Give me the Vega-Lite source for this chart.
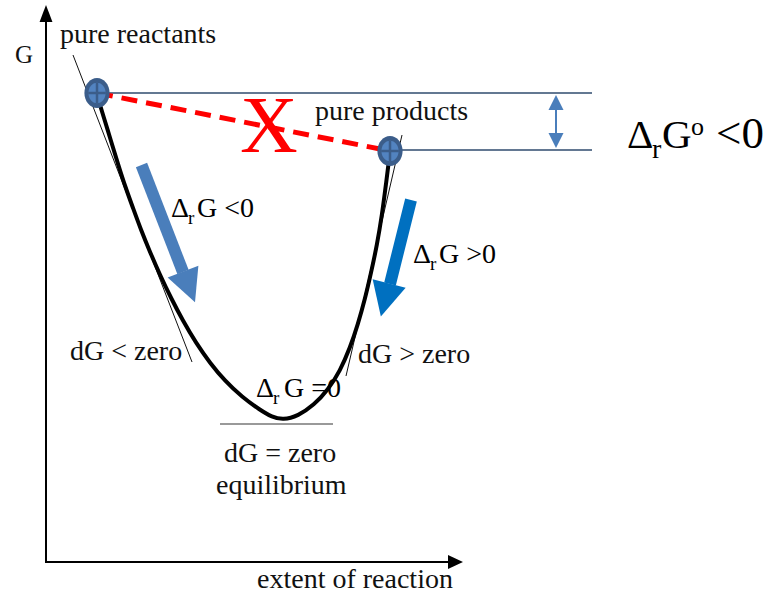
{
  "$schema": "https://vega.github.io/schema/vega-lite/v6.json",
  "width": 779,
  "height": 598,
  "autosize": {"type": "fit", "contains": "padding"},
  "padding": 0,
  "background": "white",
  "config": {"view": {"stroke": null}},
  "datasets": {
    "axes": [{"x": 46, "y": 563, "x2": 46, "y2": 18}, {"x": 45, "y": 562, "x2": 452, "y2": 562}],
    "arrowUp": [{"x": 46, "y": 13.5}],
    "arrowRight": [{"x": 455.5, "y": 562}],
    "levels": [{"x": 97, "y": 93, "x2": 592, "y2": 93}, {"x": 390, "y": 150, "x2": 592, "y2": 150}],
    "tangents": [{"x": 73, "y": 55, "x2": 192, "y2": 362}, {"x": 402, "y": 135, "x2": 346, "y2": 376}],
    "flat": [{"x": 220, "y": 424, "x2": 333, "y2": 424}],
    "curve": [
      {"x": 97, "y": 95}, {"x": 104, "y": 118}, {"x": 111, "y": 141}, {"x": 118, "y": 164},
      {"x": 125, "y": 186}, {"x": 133, "y": 208}, {"x": 141, "y": 230}, {"x": 150, "y": 252},
      {"x": 160, "y": 275}, {"x": 171, "y": 298}, {"x": 183, "y": 321}, {"x": 196, "y": 343},
      {"x": 210, "y": 363}, {"x": 225, "y": 381}, {"x": 242, "y": 397}, {"x": 260, "y": 410},
      {"x": 272, "y": 417}, {"x": 283, "y": 420}, {"x": 298, "y": 416}, {"x": 314, "y": 405},
      {"x": 328, "y": 390}, {"x": 340, "y": 371}, {"x": 350, "y": 348}, {"x": 358, "y": 324},
      {"x": 365, "y": 299}, {"x": 371, "y": 273}, {"x": 377, "y": 245}, {"x": 382, "y": 215},
      {"x": 386, "y": 184}, {"x": 390, "y": 152}
    ],
    "dashed": [{"x": 97, "y": 93, "x2": 390, "y2": 151}],
    "blobs": [{"x": 97, "y": 93}, {"x": 390, "y": 151}],
    "shaftL": [{"x": 141.5, "y": 165, "x2": 183, "y2": 272}],
    "headL": [{"x": 189, "y": 287}],
    "shaftR": [{"x": 411, "y": 200, "x2": 390, "y2": 284}],
    "headR": [{"x": 385, "y": 300}],
    "dshaft": [{"x": 556, "y": 100, "x2": 556, "y2": 142}],
    "dheadUp": [{"x": 556, "y": 102.5}],
    "dheadDown": [{"x": 556, "y": 140.5}],
    "labels": [
      {"x": 60, "y": 43, "text": "pure reactants"},
      {"x": 315, "y": 120, "text": "pure products"},
      {"x": 70, "y": 360, "text": "dG < zero"},
      {"x": 358, "y": 363, "text": "dG > zero"},
      {"x": 224, "y": 462, "text": "dG = zero"},
      {"x": 216, "y": 494, "text": "equilibrium"},
      {"x": 257, "y": 588, "text": "extent of reaction"}
    ],
    "axisG": [{"x": 15, "y": 63, "text": "G"}],
    "deltas": [
      {"x": 171, "y": 217, "text": "Δ"}, {"x": 197, "y": 217, "text": "G <0"},
      {"x": 413, "y": 263, "text": "Δ"}, {"x": 439, "y": 263, "text": "G >0"},
      {"x": 256, "y": 397, "text": "Δ"}, {"x": 284, "y": 397, "text": "G =0"}
    ],
    "subs": [
      {"x": 188, "y": 224, "text": "r"},
      {"x": 430, "y": 270, "text": "r"},
      {"x": 273, "y": 404, "text": "r"}
    ],
    "bigMain": [{"x": 627, "y": 148, "text": "Δ"}, {"x": 662, "y": 148, "text": "G"}],
    "bigLess": [{"x": 716, "y": 148, "text": "<0"}],
    "bigSub": [{"x": 652, "y": 158, "text": "r"}],
    "bigSup": [{"x": 691, "y": 135, "text": "o"}],
    "cross": [{"x": 269, "y": 152, "text": "X"}]
  },
  "encoding": {
    "x": {"field": "x", "type": "quantitative", "scale": {"domain": [0, 779], "nice": false, "zero": false}, "axis": null},
    "y": {"field": "y", "type": "quantitative", "scale": {"domain": [0, 598], "reverse": true, "nice": false, "zero": false}, "axis": null}
  },
  "layer": [
    {"data": {"name": "axes"}, "mark": {"type": "rule", "color": "#000000", "strokeWidth": 2},
     "encoding": {"x2": {"field": "x2"}, "y2": {"field": "y2"}}},
    {"data": {"name": "arrowUp"}, "mark": {"type": "point", "shape": "M0,-1L0.76,1L-0.76,1Z", "size": 289, "filled": true, "fill": "#000000", "strokeWidth": 0, "opacity": 1}},
    {"data": {"name": "arrowRight"}, "mark": {"type": "point", "shape": "M1,0L-1,0.93L-1,-0.93Z", "size": 225, "filled": true, "fill": "#000000", "strokeWidth": 0, "opacity": 1}},
    {"data": {"name": "levels"}, "mark": {"type": "rule", "color": "#2f4b6e", "strokeWidth": 1.6},
     "encoding": {"x2": {"field": "x2"}, "y2": {"field": "y2"}}},
    {"data": {"name": "tangents"}, "mark": {"type": "rule", "color": "#111111", "strokeWidth": 1},
     "encoding": {"x2": {"field": "x2"}, "y2": {"field": "y2"}}},
    {"data": {"name": "flat"}, "mark": {"type": "rule", "color": "#777777", "strokeWidth": 1.5},
     "encoding": {"x2": {"field": "x2"}, "y2": {"field": "y2"}}},
    {"data": {"name": "curve"}, "mark": {"type": "line", "color": "#000000", "strokeWidth": 4, "interpolate": "basis"}},
    {"data": {"name": "dashed"}, "mark": {"type": "rule", "color": "#ff0000", "strokeWidth": 5, "strokeDash": [16, 9]},
     "encoding": {"x2": {"field": "x2"}, "y2": {"field": "y2"}}},
    {"data": {"name": "blobs"}, "mark": {"type": "point", "shape": "M0.84,0C0.84,0.5523 0.464,1 0,1C-0.464,1 -0.84,0.5523 -0.84,0C-0.84,-0.5523 -0.464,-1 0,-1C0.464,-1 0.84,-0.5523 0.84,0Z", "size": 900, "filled": true, "fill": "#3b5d8a", "strokeWidth": 0, "opacity": 1}},
    {"data": {"name": "blobs"}, "mark": {"type": "point", "shape": "M0.84,0C0.84,0.5523 0.464,1 0,1C-0.464,1 -0.84,0.5523 -0.84,0C-0.84,-0.5523 -0.464,-1 0,-1C0.464,-1 0.84,-0.5523 0.84,0Z", "size": 420, "filled": true, "fill": "#5283c0", "strokeWidth": 0, "opacity": 1}},
    {"data": {"name": "blobs"}, "mark": {"type": "point", "shape": "M-0.84,0L0.84,0M0,-1L0,1", "size": 440, "filled": false, "stroke": "#3b5d8a", "strokeWidth": 2.5, "opacity": 1}},
    {"data": {"name": "shaftL"}, "mark": {"type": "rule", "color": "#4a7ebb", "strokeWidth": 12, "strokeCap": "butt"},
     "encoding": {"x2": {"field": "x2"}, "y2": {"field": "y2"}}},
    {"data": {"name": "headL"}, "mark": {"type": "point", "shape": "M0,1L-1,-1L1,-1Z", "size": 1089, "angle": 338.7, "filled": true, "fill": "#4a7ebb", "strokeWidth": 0, "opacity": 1}},
    {"data": {"name": "shaftR"}, "mark": {"type": "rule", "color": "#0070c0", "strokeWidth": 12, "strokeCap": "butt"},
     "encoding": {"x2": {"field": "x2"}, "y2": {"field": "y2"}}},
    {"data": {"name": "headR"}, "mark": {"type": "point", "shape": "M0,1L-1,-1L1,-1Z", "size": 1156, "angle": 14.1, "filled": true, "fill": "#0070c0", "strokeWidth": 0, "opacity": 1}},
    {"data": {"name": "dshaft"}, "mark": {"type": "rule", "color": "#4a7ebb", "strokeWidth": 2},
     "encoding": {"x2": {"field": "x2"}, "y2": {"field": "y2"}}},
    {"data": {"name": "dheadUp"}, "mark": {"type": "point", "shape": "M0,-1L1,1L-1,1Z", "size": 225, "filled": true, "fill": "#4a7ebb", "strokeWidth": 0, "opacity": 1}},
    {"data": {"name": "dheadDown"}, "mark": {"type": "point", "shape": "M0,1L1,-1L-1,-1Z", "size": 225, "filled": true, "fill": "#4a7ebb", "strokeWidth": 0, "opacity": 1}},
    {"data": {"name": "labels"}, "mark": {"type": "text", "align": "left", "baseline": "alphabetic", "font": "Liberation Serif", "fontSize": 28, "color": "#111111"},
     "encoding": {"text": {"field": "text"}}},
    {"data": {"name": "axisG"}, "mark": {"type": "text", "align": "left", "baseline": "alphabetic", "font": "Liberation Serif", "fontSize": 25, "color": "#111111"},
     "encoding": {"text": {"field": "text"}}},
    {"data": {"name": "deltas"}, "mark": {"type": "text", "align": "left", "baseline": "alphabetic", "font": "Liberation Serif", "fontSize": 28, "color": "#000000"},
     "encoding": {"text": {"field": "text"}}},
    {"data": {"name": "subs"}, "mark": {"type": "text", "align": "left", "baseline": "alphabetic", "font": "Liberation Serif", "fontSize": 19, "color": "#000000"},
     "encoding": {"text": {"field": "text"}}},
    {"data": {"name": "bigMain"}, "mark": {"type": "text", "align": "left", "baseline": "alphabetic", "font": "Liberation Serif", "fontSize": 41, "color": "#000000"},
     "encoding": {"text": {"field": "text"}}},
    {"data": {"name": "bigLess"}, "mark": {"type": "text", "align": "left", "baseline": "alphabetic", "font": "Liberation Serif", "fontSize": 45, "color": "#000000"},
     "encoding": {"text": {"field": "text"}}},
    {"data": {"name": "bigSub"}, "mark": {"type": "text", "align": "left", "baseline": "alphabetic", "font": "Liberation Serif", "fontSize": 28, "color": "#000000"},
     "encoding": {"text": {"field": "text"}}},
    {"data": {"name": "bigSup"}, "mark": {"type": "text", "align": "left", "baseline": "alphabetic", "font": "Liberation Serif", "fontSize": 26, "color": "#000000"},
     "encoding": {"text": {"field": "text"}}},
    {"data": {"name": "cross"}, "mark": {"type": "text", "align": "center", "baseline": "alphabetic", "font": "Liberation Serif", "fontSize": 80, "color": "#ff0000"},
     "encoding": {"text": {"field": "text"}}}
  ]
}
